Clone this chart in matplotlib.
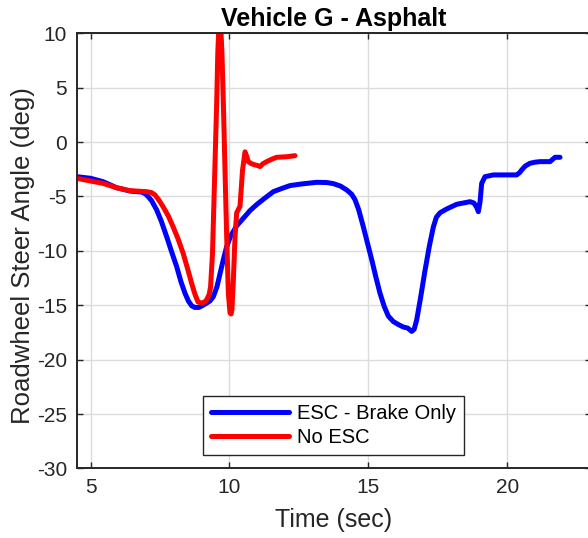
import numpy as np
import matplotlib
matplotlib.use("Agg")
import matplotlib.pyplot as plt

plt.rcParams["font.family"] = ["Liberation Sans", "DejaVu Sans"]
plt.rcParams["axes.unicode_minus"] = False

DARK = (0.15, 0.15, 0.15)

# ESC - Brake Only (blue)
esc_t = [4.5, 5.0, 5.45, 5.94, 6.42, 6.84, 6.97, 7.07, 7.2, 7.38, 7.55, 7.74,
         7.92, 8.1, 8.25, 8.4, 8.52, 8.64, 8.75, 8.9, 9.05, 9.18, 9.3, 9.42,
         9.55, 9.66, 9.78, 9.9, 10.05, 10.26, 10.5, 10.74, 11.0, 11.3, 11.58,
         11.9, 12.18, 12.6, 13.14, 13.5, 13.74, 14.0, 14.22, 14.4, 14.52,
         14.65, 14.82, 14.97, 15.12, 15.27, 15.42, 15.57, 15.72, 15.9, 16.1,
         16.26, 16.42, 16.56, 16.65, 16.74, 16.88, 17.04, 17.2, 17.34, 17.45,
         17.58, 17.82, 18.18, 18.66, 18.8, 18.9, 18.96, 19.02, 19.08, 19.2,
         19.5, 20.34, 20.45, 20.52, 20.65, 20.82, 21.0, 21.18, 21.54, 21.63,
         21.72, 21.9]
esc_angle = [-3.18, -3.33, -3.64, -4.2, -4.5, -4.6, -4.75, -5.0, -5.4, -6.24,
             -7.3, -8.7, -10.1, -11.45, -12.8, -13.9, -14.6, -15.05, -15.2,
             -15.2, -15.0, -14.8, -14.6, -14.2, -13.3, -12.1, -10.8, -9.6,
             -8.6, -7.7, -7.0, -6.3, -5.7, -5.1, -4.56, -4.25, -4.0, -3.85,
             -3.7, -3.72, -3.82, -4.05, -4.4, -4.8, -5.3, -6.2, -7.8, -9.3,
             -10.8, -12.4, -13.9, -15.1, -16.0, -16.5, -16.8, -17.0, -17.1,
             -17.4, -17.2, -16.35, -14.3, -11.8, -9.5, -7.8, -6.9, -6.5,
             -6.15, -5.72, -5.48, -5.6, -6.0, -6.4, -5.5, -3.79, -3.18, -3.02,
             -3.02, -2.8, -2.56, -2.2, -1.95, -1.85, -1.8, -1.8, -1.6, -1.4,
             -1.4]

# No ESC (red)
noesc_t = [4.5, 5.0, 5.45, 5.94, 6.42, 7.02, 7.2, 7.32, 7.45, 7.61, 7.8, 7.97,
           8.15, 8.33, 8.5, 8.64, 8.76, 8.87, 9.0, 9.1, 9.18, 9.27, 9.32,
           9.39, 9.44, 9.49, 9.54, 9.58, 9.65, 9.73, 9.78, 9.84, 9.9, 9.96,
           10.02, 10.06, 10.09, 10.14, 10.2, 10.26, 10.38, 10.47, 10.56,
           10.62, 10.68, 10.8, 10.92, 11.0, 11.1, 11.2, 11.34, 11.5, 11.7,
           12.06, 12.36]
noesc_angle = [-3.33, -3.58, -3.8, -4.2, -4.47, -4.56, -4.65, -4.86, -5.3,
               -5.94, -6.8, -7.78, -8.9, -10.2, -11.7, -13.0, -14.0, -14.7,
               -14.8, -14.7, -14.5, -14.0, -13.3, -10.2, -5.6, -1.0, 3.6, 8.2,
               12.5, 8.2, 3.6, -2.6, -8.7, -13.9, -15.7, -15.8, -15.4, -12.7,
               -8.7, -6.5, -5.9, -2.6, -0.9, -1.3, -1.8, -2.0, -2.1, -2.15,
               -2.25, -2.0, -1.8, -1.6, -1.4, -1.35, -1.25]

fig = plt.figure(figsize=(5.88, 5.38), dpi=100)
ax = fig.add_axes([0.1304, 0.1292, 0.874, 0.809])

ax.plot(esc_t, esc_angle, color="blue", lw=3.6, label="ESC - Brake Only",
        solid_joinstyle="round", solid_capstyle="round")
ax.plot(noesc_t, noesc_angle, color="red", lw=3.6, label="No ESC",
        solid_joinstyle="round", solid_capstyle="round")

ax.set_xlim(4.5, 23)
ax.set_ylim(-30, 10)
ax.set_xticks([5, 10, 15, 20])
ax.set_yticks(np.arange(-30, 11, 5))
ax.grid(True, color="#dcdcdc", lw=1.0)
ax.set_axisbelow(True)

ax.tick_params(direction="in", length=4, width=1, top=True, right=True,
               labelsize=15, colors=DARK, pad=7)
for sp in ax.spines.values():
    sp.set_color(DARK)
    sp.set_linewidth(1.4)

ax.set_xlabel("Time (sec)", fontsize=18, color=DARK, labelpad=8)
ax.set_ylabel("Roadwheel Steer Angle (deg)", fontsize=18.5, color=DARK)
ax.yaxis.set_label_coords(-0.082, 0.489)
ax.set_title("Vehicle G - Asphalt", fontsize=18, fontweight="bold", pad=5)

leg = ax.legend(loc="lower center", bbox_to_anchor=(0.5, 0.031),
                borderaxespad=0, fontsize=14.5, handlelength=3.9,
                handletextpad=0.4, labelspacing=0.25, borderpad=0.4,
                fancybox=False, framealpha=1, edgecolor=DARK)
leg.get_frame().set_linewidth(1.0)

fig.savefig("out.png", dpi=100)
